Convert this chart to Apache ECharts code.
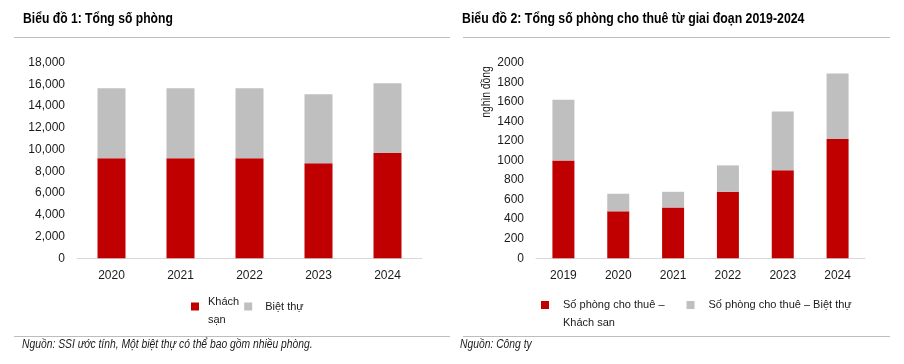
<!DOCTYPE html>
<html><head><meta charset="utf-8">
<script src="https://cdn.jsdelivr.net/npm/echarts@6/dist/echarts.min.js"></script>
<style>html,body{margin:0;padding:0;background:#fff}#c{width:904px;height:364px}</style>
</head><body><div id="c"></div>
<script>
var years1 = ['2020','2021','2022','2023','2024'];
var hotel1 = [9200, 9200, 9200, 8750, 9700];
var villa1 = [6450, 6450, 6450, 6350, 6400];

var years2 = ['2019','2020','2021','2022','2023','2024'];
var hotel2 = [1000, 480, 520, 680, 900, 1220];
var villa2 = [620, 180, 160, 270, 600, 670];

var F = "'Liberation Sans Narrow', 'Arial Narrow', 'Liberation Sans', Arial, sans-serif";
var RED = '#c00000', GRAY = '#bfbfbf', TXT = '#1a1a1a';

var chart = echarts.init(document.getElementById('c'), null, {renderer:'canvas'});
function xAx(idx, data){
  return {type:'category', gridIndex:idx, data:data,
    axisLine:{lineStyle:{color:'#d9d9d9', width:1}}, axisTick:{show:false},
    axisLabel:{color:TXT, fontFamily:F, fontSize:12, margin:11}};
}
function yAx(idx, max, interval, fmt){
  return {type:'value', gridIndex:idx, min:0, max:max, interval:interval,
    splitLine:{show:false}, axisLine:{show:false}, axisTick:{show:false},
    axisLabel:{color:TXT, fontFamily:F, fontSize:12, margin:12, formatter:fmt}};
}
chart.setOption({
  animation:false,
  textStyle:{fontFamily:F},
  grid:[
    {left:77, top:62.7, width:345, height:195.6},
    {left:536, top:62.7, width:329, height:195.6}
  ],
  xAxis:[xAx(0, years1), xAx(1, years2)],
  yAxis:[
    yAx(0, 18000, 2000, function(v){return v.toLocaleString('en-US');}),
    yAx(1, 2000, 200, function(v){return String(v);})
  ],
  legend:[
    {data:[{name:'Khách sạn', textStyle:{padding:[0,0,0,4]}},{name:'Biệt thự', textStyle:{padding:[0,0,0,8]}}],
     left:191, top:283, padding:0, itemWidth:8, itemHeight:8, itemGap:5,
     icon:'rect', textStyle:{fontFamily:F, fontSize:11, color:TXT, lineHeight:18,
       rich:{e:{lineHeight:8, fontSize:11, fontFamily:F}, t:{lineHeight:18, fontSize:11, fontFamily:F, color:TXT}}},
     formatter:function(n){return n==='Khách sạn'?'{e|\u00a0}\n{t|Khách}\n{t|sạn}':n;}},
    {data:[{name:'Số phòng cho thuê – Khách san', textStyle:{padding:[0,0,0,9]}},{name:'Số phòng cho thuê – Biệt thự', textStyle:{padding:[0,0,0,9]}}],
     left:541, top:278, padding:0, itemWidth:8, itemHeight:8, itemGap:22,
     icon:'rect', textStyle:{fontFamily:F, fontSize:11, color:TXT, lineHeight:18},
     formatter:function(n){return n==='Số phòng cho thuê – Khách san'?'\u00a0\nSố phòng cho thuê –\nKhách san':n;}}
  ],
  series:[
    {name:'Khách sạn', type:'bar', stack:'a', xAxisIndex:0, yAxisIndex:0, barWidth:28, data:hotel1, itemStyle:{color:RED}},
    {name:'Biệt thự', type:'bar', stack:'a', xAxisIndex:0, yAxisIndex:0, barWidth:28, data:villa1, itemStyle:{color:GRAY}},
    {name:'Số phòng cho thuê – Khách san', type:'bar', stack:'b', xAxisIndex:1, yAxisIndex:1, barWidth:22, data:hotel2, itemStyle:{color:RED}},
    {name:'Số phòng cho thuê – Biệt thự', type:'bar', stack:'b', xAxisIndex:1, yAxisIndex:1, barWidth:22, data:villa2, itemStyle:{color:GRAY}}
  ],
  graphic:[
    {type:'text', x:23, y:11, scaleX:0.81, style:{text:'Biểu đồ 1: Tổng số phòng', font:'bold 15px '+F, fill:'#000', verticalAlign:'top'}},
    {type:'text', x:462, y:11, scaleX:0.82, style:{text:'Biểu đồ 2: Tổng số phòng cho thuê từ giai đoạn 2019-2024', font:'bold 15px '+F, fill:'#000', verticalAlign:'top'}},
    {type:'line', shape:{x1:14, y1:37.5, x2:450, y2:37.5}, style:{stroke:'#bdbdbd', lineWidth:1}},
    {type:'line', shape:{x1:463, y1:37.5, x2:890, y2:37.5}, style:{stroke:'#bdbdbd', lineWidth:1}},
    {type:'line', shape:{x1:14, y1:336.5, x2:450, y2:336.5}, style:{stroke:'#bdbdbd', lineWidth:1}},
    {type:'line', shape:{x1:463, y1:336.5, x2:890, y2:336.5}, style:{stroke:'#bdbdbd', lineWidth:1}},
    {type:'text', x:22, y:345, scaleX:0.86, style:{text:'Nguồn: SSI ước tính, Một biệt thự có thể bao gồm nhiều phòng.', font:'italic 12px '+F, fill:TXT, verticalAlign:'middle'}},
    {type:'text', x:460, y:345, scaleX:0.86, style:{text:'Nguồn: Công ty', font:'italic 12px '+F, fill:TXT, verticalAlign:'middle'}},
    {type:'text', x:487, y:92, rotation:Math.PI/2, scaleX:0.86, style:{text:'nghìn đồng', font:'12px '+F, fill:TXT, align:'center', verticalAlign:'middle'}}
  ]
});
</script></body></html>
